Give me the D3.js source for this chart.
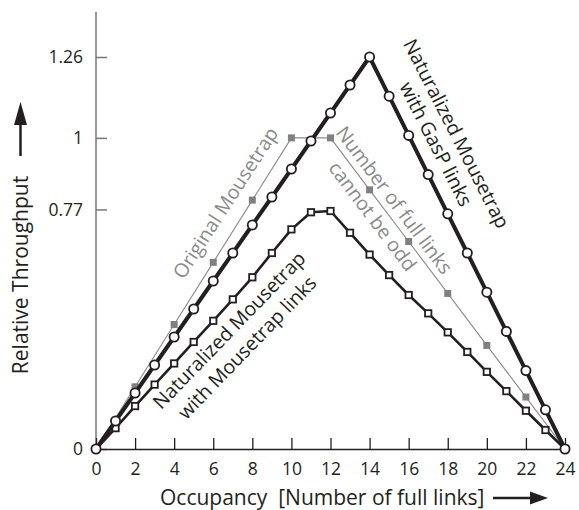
<!DOCTYPE html>
<html><head><meta charset="utf-8">
<script src="https://cdn.jsdelivr.net/npm/d3@7"></script>
<style>
body{margin:0;background:#fff;}
svg text{font-family:"Open Sans",sans-serif;}
</style>
</head><body>
<svg id="chart" width="579" height="510"></svg>
<script>
// ---- data ----
const occupancy = [0,1,2,3,4,5,6,7,8,9,10,11,12,13,14,15,16,17,18,19,20,21,22,23,24];
const gaspValues = [0,0.09,0.18,0.27,0.36,0.45,0.54,0.63,0.72,0.81,0.90,0.99,1.08,1.17,1.26,
  1.134,1.008,0.882,0.756,0.63,0.504,0.378,0.252,0.126,0];
const mousetrapLinkValues = [0,0.067,0.138,0.207,0.275,0.344,0.412,0.481,0.552,0.630,0.706,0.761,0.765,
  0.695,0.625,0.559,0.495,0.436,0.375,0.312,0.248,0.186,0.123,0.061,0];
const originalOccupancy = [0,2,4,6,8,10,12,14,16,18,20,22,24];
const originalValues = [0,0.2,0.4,0.6,0.8,1,1,0.833,0.667,0.5,0.333,0.167,0];
const xTicks = [0,2,4,6,8,10,12,14,16,18,20,22,24];
const yTicks = [0,0.77,1,1.26];
const yTickLabels = ["0","0.77","1","1.26"];

const svg = d3.select("#chart");
const x = d3.scaleLinear().domain([0,24]).range([96,565]);
const y = d3.scaleLinear().domain([0,1.26]).range([449,57]);
const ink = "#231f20", grey = "#8a8a8a";

// y axis
const yAxis = svg.append("g").attr("transform",`translate(${x(0)},0)`)
  .call(d3.axisLeft(y).tickValues(yTicks).tickFormat((d,i)=>yTickLabels[i])
        .tickSize(-11).tickPadding(13));
yAxis.select(".domain").remove();
yAxis.selectAll(".tick line").attr("stroke","#777").attr("stroke-width",1.5);
yAxis.selectAll(".tick text").attr("fill",ink).style("font-size","17.5px");
svg.append("line").attr("x1",x(0)).attr("x2",x(0)).attr("y1",y(0)).attr("y2",y(1.405))
  .attr("stroke","#777").attr("stroke-width",1.5);

// x axis
const xAxis = svg.append("g").attr("transform",`translate(0,${y(0)})`)
  .call(d3.axisBottom(x).tickValues(xTicks).tickSize(-11).tickSizeOuter(0).tickPadding(14));
xAxis.select(".domain").attr("stroke",ink).attr("stroke-width",1.5);
xAxis.selectAll(".tick line").attr("stroke",ink).attr("stroke-width",1.3);
xAxis.selectAll(".tick text").attr("fill",ink).style("font-size","17.5px");

// lines
const line = d3.line().x(d=>x(d[0])).y(d=>y(d[1]));
const origData = originalOccupancy.map((o,i)=>[o,originalValues[i]]);
const mtData = occupancy.map((o,i)=>[o,mousetrapLinkValues[i]]);
const gaspData = occupancy.map((o,i)=>[o,gaspValues[i]]);

svg.append("path").datum(origData).attr("d",line).attr("fill","none")
  .attr("stroke",grey).attr("stroke-width",1.1);
svg.selectAll(".osq").data(origData).enter().append("rect")
  .attr("x",d=>x(d[0])-3.5).attr("y",d=>y(d[1])-3.5).attr("width",7).attr("height",7)
  .attr("fill","#808080");

svg.append("path").datum(mtData).attr("d",line).attr("fill","none")
  .attr("stroke",ink).attr("stroke-width",2.6).attr("stroke-linejoin","round");
svg.selectAll(".msq").data(mtData).enter().append("rect")
  .attr("x",d=>x(d[0])-3.2).attr("y",d=>y(d[1])-3.2).attr("width",6.4).attr("height",6.4)
  .attr("fill","#fff").attr("stroke",ink).attr("stroke-width",1.8);

svg.append("path").datum(gaspData).attr("d",line).attr("fill","none")
  .attr("stroke",ink).attr("stroke-width",4).attr("stroke-linejoin","round");
svg.selectAll(".gc").data(gaspData).enter().append("circle")
  .attr("cx",d=>x(d[0])).attr("cy",d=>y(d[1])).attr("r",4.6)
  .attr("fill","#fff").attr("stroke",ink).attr("stroke-width",1.8);

// annotations (positions in data units)
function label(lines, cx, cy, angle, color, size, gap){
  const g = svg.append("g").attr("transform",`translate(${x(cx)},${y(cy)}) rotate(${angle})`);
  const n = lines.length;
  lines.forEach((t,i)=>{
    g.append("text").attr("text-anchor","middle").attr("dy","0.35em")
      .attr("y",(i-(n-1)/2)*gap).attr("fill",color).style("font-size",size+"px").text(t);
  });
}
label(["Original Mousetrap"], 6.63, 0.791, -57, grey, 19.5, 24);
label(["Number of full links","cannot be odd"], 14.71, 0.774, 53, grey, 19.5, 27);
label(["Naturalized Mousetrap","with GasP links"], 17.92, 0.997, 63, ink, 19.5, 23);
label(["Naturalized Mousetrap","with Mousetrap links"], 7.27, 0.354, -46, ink, 19.5, 25);

// axis titles
svg.append("text").attr("transform","translate(20.5,275) rotate(-90)")
  .attr("text-anchor","middle").attr("dy","0.35em").attr("fill",ink)
  .style("font-size","21px").text("Relative Throughput");
svg.append("text").attr("x",160).attr("y",505).attr("fill",ink)
  .style("font-size","21px").style("white-space","pre").text("Occupancy  [Number of full links]");

// arrows
svg.append("line").attr("x1",20.5).attr("x2",20.5).attr("y1",156).attr("y2",120)
  .attr("stroke",ink).attr("stroke-width",2.5);
svg.append("path").attr("d","M20.5,102 L27,125 L14,125 Z").attr("fill",ink);
svg.append("line").attr("x1",493).attr("x2",533).attr("y1",498).attr("y2",498)
  .attr("stroke",ink).attr("stroke-width",2.5);
svg.append("path").attr("d","M548,498 L530,491.5 L530,504.5 Z").attr("fill",ink);
</script>
</body></html>
